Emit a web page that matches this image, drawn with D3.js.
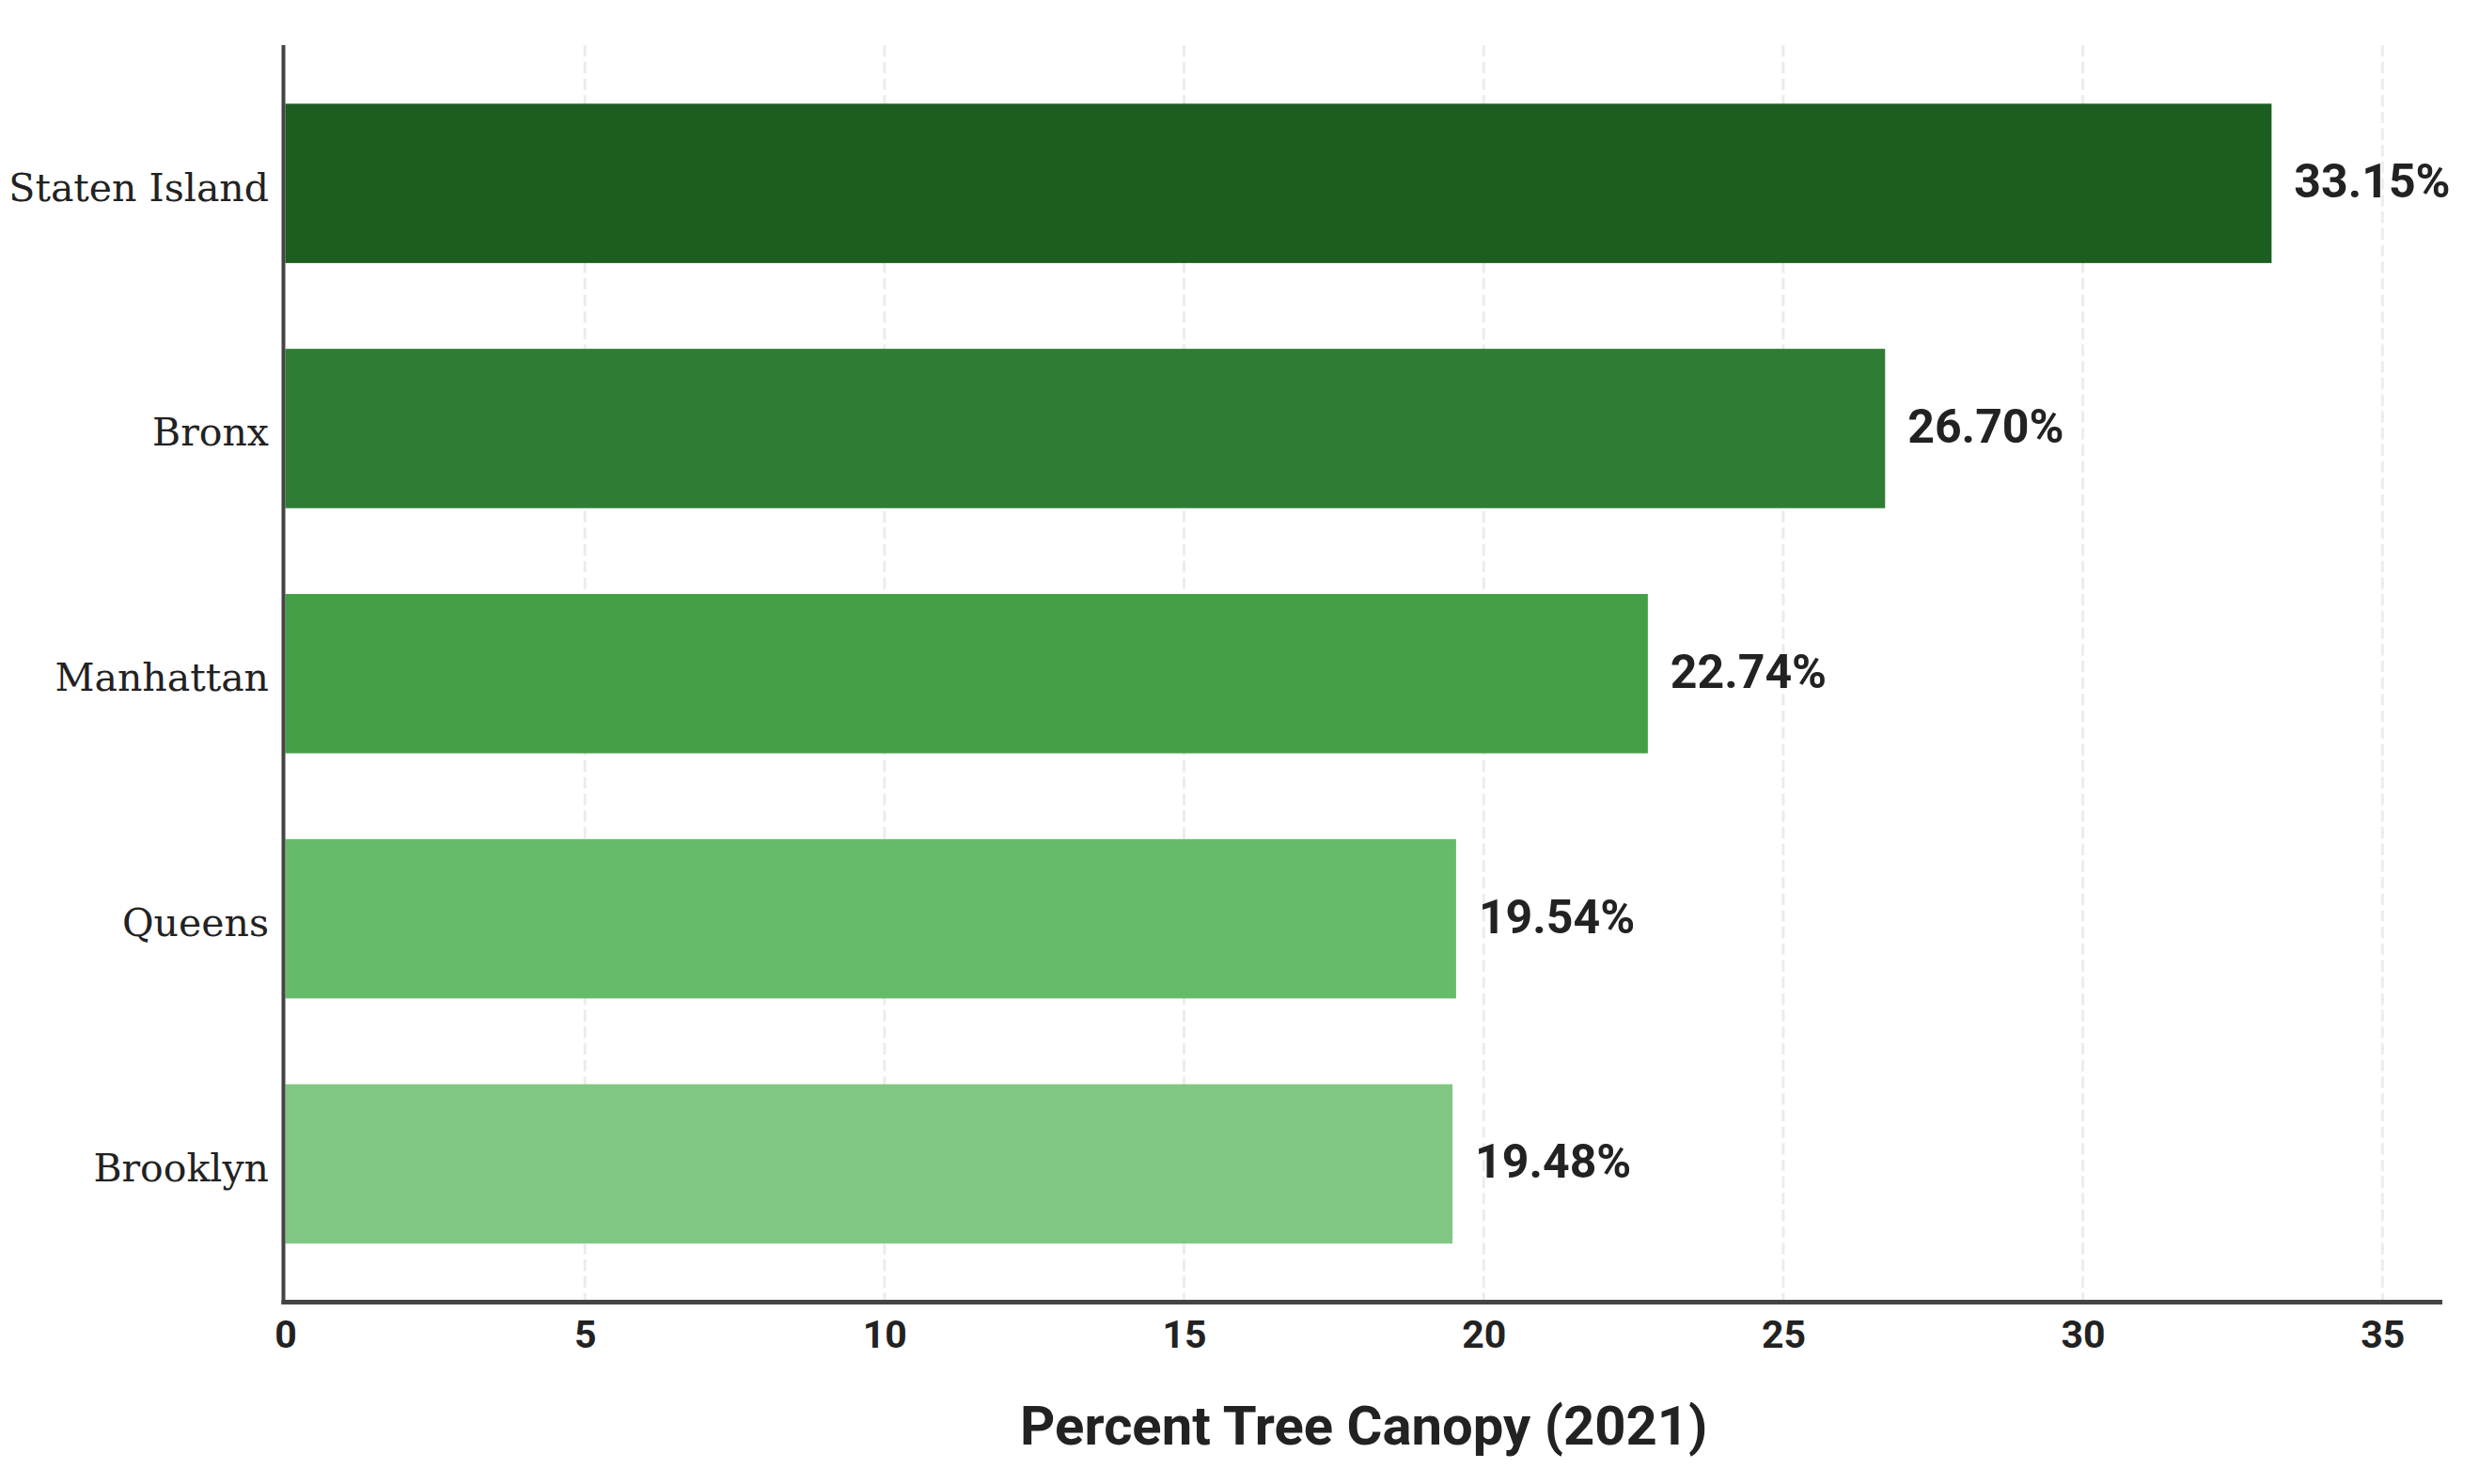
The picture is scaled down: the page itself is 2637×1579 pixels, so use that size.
<!DOCTYPE html>
<html>
<head>
<meta charset="utf-8">
<script src="https://cdn.jsdelivr.net/npm/d3@7"></script>
<style>
  html, body { margin: 0; padding: 0; background: #ffffff; }
  svg { display: block; }
</style>
</head>
<body>
<svg id="chart" width="2637" height="1579"></svg>
<script>
// ---- data ----
const boroughs = ["Staten Island", "Bronx", "Manhattan", "Queens", "Brooklyn"];
const canopy = [33.15, 26.70, 22.74, 19.54, 19.48];
const barColors = ["#1b5e20", "#2e7d32", "#43a047", "#66bb6a", "#81c784"];
const xTicks = [0, 5, 10, 15, 20, 25, 30, 35];
const xDomain = [0, 36];
const xLabel = "Percent Tree Canopy (2021)";

const rows = boroughs.map((b, i) => ({ name: b, value: canopy[i], color: barColors[i] }));

// ---- layout ----
const plotLeft = 303.5, plotRight = 2598, plotTop = 48, plotBottom = 1385.5;

const svg = d3.select("#chart");

const x = d3.scaleLinear().domain(xDomain).range([plotLeft, plotRight]);
const y = d3.scaleBand().domain(boroughs).range([plotTop, plotBottom])
  .paddingInner(0.35).paddingOuter(0.239);

// grid lines
svg.append("g").selectAll("line")
  .data(xTicks.filter(t => t > 0))
  .join("line")
  .attr("x1", d => x(d)).attr("x2", d => x(d))
  .attr("y1", plotTop).attr("y2", plotBottom)
  .attr("stroke", "#ececec")
  .attr("stroke-width", 3)
  .attr("stroke-dasharray", "12.3,5.4");

// bars
svg.append("g").selectAll("rect")
  .data(rows)
  .join("rect")
  .attr("x", x(0))
  .attr("y", d => y(d.name))
  .attr("width", d => x(d.value) - x(0))
  .attr("height", y.bandwidth())
  .attr("fill", d => d.color);

// value labels
svg.append("g").selectAll("text")
  .data(rows)
  .join("text")
  .attr("x", d => x(d.value) + 24)
  .attr("y", d => y(d.name) + y.bandwidth() / 2 + 15)
  .attr("font-family", "Roboto")
  .attr("font-weight", 700)
  .attr("font-size", 50)
  .attr("fill", "#222222")
  .text(d => d.value.toFixed(2) + "%");

// y axis (category labels, no ticks)
const yAxis = d3.axisLeft(y).tickSize(0).tickPadding(0);
const gy = svg.append("g").attr("transform", `translate(${plotLeft - 2},0)`).call(yAxis);
gy.select(".domain").remove();
gy.selectAll(".tick text")
  .attr("x", -15.5)
  .attr("dy", null)
  .attr("y", 18.5)
  .attr("text-anchor", "end")
  .attr("font-family", "'DejaVu Serif', serif")
  .attr("font-size", 41)
  .attr("fill", "#222222");

// x axis (tick labels, no tick marks)
const xAxis = d3.axisBottom(x).tickValues(xTicks).tickFormat(d3.format("d")).tickSize(0).tickPadding(0);
const gx = svg.append("g").attr("transform", `translate(0,${plotBottom})`).call(xAxis);
gx.select(".domain").remove();
gx.selectAll(".tick text")
  .attr("dy", null)
  .attr("y", 48.5)
  .attr("font-family", "Roboto")
  .attr("font-weight", 700)
  .attr("font-size", 41)
  .attr("fill", "#222222");

// axis lines
svg.append("line")
  .attr("x1", plotLeft - 2).attr("x2", plotLeft - 2)
  .attr("y1", plotTop).attr("y2", plotBottom + 2.5)
  .attr("stroke", "#444444").attr("stroke-width", 4);
svg.append("line")
  .attr("x1", plotLeft - 4).attr("x2", plotRight)
  .attr("y1", plotBottom).attr("y2", plotBottom)
  .attr("stroke", "#444444").attr("stroke-width", 5);

// x axis title
svg.append("text")
  .attr("x", (plotLeft + plotRight) / 2)
  .attr("y", 1537)
  .attr("text-anchor", "middle")
  .attr("font-family", "Roboto")
  .attr("font-weight", 700)
  .attr("font-size", 58)
  .attr("fill", "#222222")
  .text(xLabel);
</script>
</body>
</html>
